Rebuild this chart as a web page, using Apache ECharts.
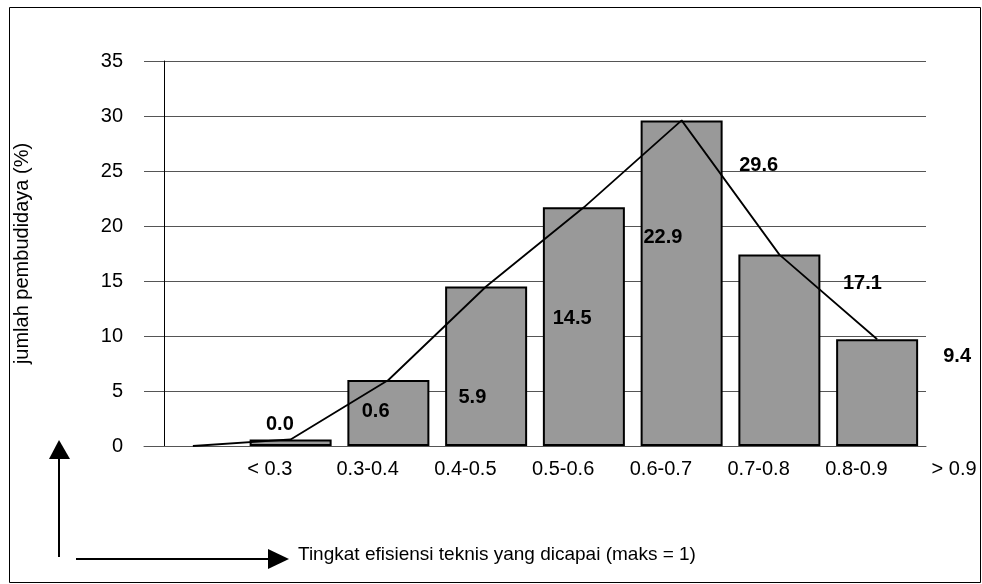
<!DOCTYPE html>
<html>
<head>
<meta charset="utf-8">
<script src="https://cdn.jsdelivr.net/npm/echarts@6/dist/echarts.min.js"></script>
<style>
html, body { margin: 0; padding: 0; background: #fff; }
#main { width: 982px; height: 584px; }
</style>
</head>
<body>
<div id="main"></div>
<script>
// data
var categories = ['< 0.3', '0.3-0.4', '0.4-0.5', '0.5-0.6', '0.6-0.7', '0.7-0.8', '0.8-0.9', '> 0.9'];
var barValues = ['-', 0.6, 6.0, 14.5, 21.7, 29.6, 17.4, 9.7];
var lineValues = [0, 0.6, 6.0, 14.5, 21.7, 29.6, 17.4, 9.7];
var pointLabels = ['0.0', '0.6', '5.9', '14.5', '22.9', '29.6', '17.1', '9.4'];

var font = 'Liberation Sans, Arial, sans-serif';
var chart = echarts.init(document.getElementById('main'));

// labels sit to the right of each point, as in the original
var labelShift = [[87, -22], [85, -28], [84, 17], [86, 32], [79, 30], [77, 45], [83, 29], [80, 17]];
var lineData = lineValues.map(function (v, i) {
    return {
        value: v,
        label: { offset: labelShift[i], formatter: pointLabels[i] }
    };
});

option = {
    backgroundColor: '#fff',
    animation: false,
    grid: { left: 144, right: 56, top: 61, bottom: 138 },
    xAxis: {
        type: 'category',
        data: categories,
        axisLine: { lineStyle: { color: '#555', width: 1 } },
        axisTick: { show: false },
        axisLabel: {
            interval: 0,
            margin: 13,
            color: '#000',
            fontFamily: font,
            fontSize: 20,
            padding: [0, 0, 0, 154]
        }
    },
    yAxis: {
        type: 'value',
        min: 0,
        max: 35,
        interval: 5,
        offset: -20,
        name: 'jumlah pembudidaya (%)',
        nameLocation: 'middle',
        nameGap: 132,
        nameRotate: 90,
        nameTextStyle: { color: '#000', fontFamily: font, fontSize: 20 },
        axisLine: { show: true, lineStyle: { color: '#000', width: 1 } },
        axisTick: { show: false },
        axisLabel: { margin: 41, color: '#000', fontFamily: font, fontSize: 20 },
        splitLine: { lineStyle: { color: '#555', width: 1 } }
    },
    series: [
        {
            type: 'bar',
            data: barValues,
            barWidth: 82,
            itemStyle: { color: '#999999', borderColor: '#000', borderWidth: 2 }
        },
        {
            type: 'line',
            data: lineData,
            symbol: 'circle',
            symbolSize: 0.1,
            itemStyle: { color: '#000' },
            lineStyle: { color: '#000', width: 1.8 },
            label: {
                show: true,
                position: 'inside',
                color: '#000',
                fontFamily: font,
                fontSize: 20,
                fontWeight: 'bold'
            },
            z: 3
        }
    ],
    graphic: [
        { type: 'rect', shape: { x: 9.5, y: 7.5, width: 971, height: 575 },
          style: { fill: 'none', stroke: '#000', lineWidth: 1 } },
        { type: 'line', shape: { x1: 59, y1: 557, x2: 59, y2: 458 },
          style: { stroke: '#000', lineWidth: 2 } },
        { type: 'polygon', shape: { points: [[59, 440], [49, 459], [70, 459]] },
          style: { fill: '#000' } },
        { type: 'line', shape: { x1: 76, y1: 559, x2: 270, y2: 559 },
          style: { stroke: '#000', lineWidth: 2 } },
        { type: 'polygon', shape: { points: [[289, 559], [268, 549], [268, 569]] },
          style: { fill: '#000' } },
        { type: 'text', left: 298, top: 545,
          style: { text: 'Tingkat efisiensi teknis yang dicapai (maks = 1)', fill: '#000',
                   font: '19px Liberation Sans, Arial, sans-serif' } }
    ]
};

chart.setOption(option);
window.addEventListener('resize', function () { chart.resize(); });
</script>
</body>
</html>
